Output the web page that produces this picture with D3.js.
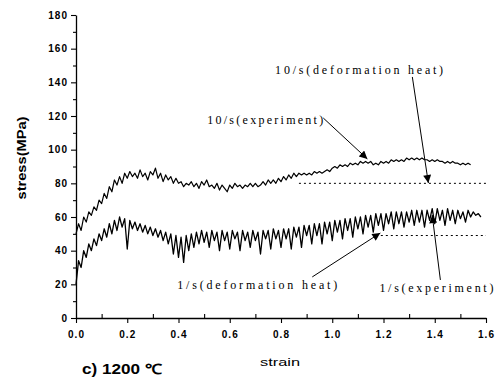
<!DOCTYPE html>
<html>
<head>
<meta charset="utf-8">
<script src="https://cdn.jsdelivr.net/npm/d3@7"></script>
<style>
  html, body { margin: 0; padding: 0; background: #fff; }
  svg { display: block; }
  .tick text { font-family: "Liberation Sans", Arial, sans-serif; font-weight: bold; font-size: 10px; fill: #000; letter-spacing: 1px; }
</style>
</head>
<body>
<svg id="chart" width="497" height="377"></svg>
<script>
// ---------------- data ----------------
const strainStep = 0.01;
// 10/s experiment stress (MPa), strain 0.00 .. 1.54 step 0.01
const stress10 = [
  50,56,52,60,57,63,61,66,64,70, 68,74,71,78,75,82,79,84,80,86,
  83,87,84,86,83,88,84,86,82,87, 85,89,83,86,81,85,82,84,80,83,
  80,81,78,80,79,81,78,80,77,81, 79,82,78,79,77,80,76,79,77,75,
  79,77,80,78,79,77,79,78,80,78, 80,78,79,81,79,82,80,82,80,83,
  81,84,82,85,83,86,84,86,85,86, 85,86,85,87,86,87,86,87,88,87,
  89,90,89,91,90,91,90,92,91,92, 91,93,92,93,92,93,91,92,91,93,
  92,93,92,94,93,94,93,94,93,95, 94,95,94,95,94,95,94,94,93,94,
  93,94,93,93,92,93,92,93,92,92, 91,92,91,92,91
];
// 1/s experiment stress (MPa), strain 0.00 .. 1.58 step 0.01
const stress1 = [
  20,34,30,40,36,44,40,47,43,50, 46,53,48,56,50,58,52,60,54,59,
  41,58,53,57,52,56,51,55,50,54, 49,53,48,52,46,51,44,50,38,49,
  36,48,33,49,40,50,42,51,44,52, 45,51,42,52,46,51,40,52,46,51,
  41,52,47,51,40,52,46,51,42,52, 46,51,38,52,47,52,41,53,47,52,
  42,53,47,53,41,54,48,54,42,55, 49,55,44,56,49,56,44,57,50,57,
  46,58,51,58,47,59,52,59,48,60, 53,60,50,61,54,61,51,62,55,62,
  52,62,56,63,53,63,56,63,54,63, 57,64,55,64,57,64,54,64,58,65,
  56,65,58,64,55,65,58,64,56,64, 59,63,57,64,60,63,61,62,60
];
// deformation-heat predictions (dotted): [strain, stress]
const heat10 = [[0.87, 80], [1.6, 80]];
const heat1  = [[1.17, 49], [1.6, 49]];

const xTicks = [0.0, 0.2, 0.4, 0.6, 0.8, 1.0, 1.2, 1.4, 1.6];
const xMinor = [0.1, 0.3, 0.5, 0.7, 0.9, 1.1, 1.3, 1.5];
const yTicks = [0, 20, 40, 60, 80, 100, 120, 140, 160, 180];
const yMinor = [10, 30, 50, 70, 90, 110, 130, 150, 170];

// annotations: text position [strain, stress], width px
const labels = [
  { text: "10/s(deformation heat)", s: 0.777, v: 145.0, w: 168 },
  { text: "10/s(experiment)",       s: 0.512, v: 115.3, w: 116 },
  { text: "1/s(deformation heat)",  s: 0.395, v: 17.2,  w: 160 },
  { text: "1/s(experiment)",        s: 1.184, v: 15.4,  w: 114 }
];
const arrows = [
  { from: [0.965, 118.8], to: [1.137, 94.5] },
  { from: [1.3125, 143.2], to: [1.375, 80.2] },
  { from: [0.922, 24.4], to: [1.1875, 50.5] },
  { from: [1.422, 22.6], to: [1.39, 61.2] }
];

// ---------------- chart ----------------
const svg = d3.select("#chart");
const x = d3.scaleLinear().domain([0, 1.6]).range([76, 486]);
const y = d3.scaleLinear().domain([0, 180]).range([318, 15]);

// axes
const gx = svg.append("g").attr("transform", `translate(0,${y(0)})`);
gx.call(d3.axisBottom(x).tickValues(xTicks).tickFormat(d3.format(".1f")).tickSize(5).tickPadding(8).tickSizeOuter(0));
svg.append("g").attr("transform", `translate(0,${y(0)})`)
  .call(d3.axisBottom(x).tickValues(xMinor).tickFormat("").tickSize(-4).tickSizeOuter(0))
  .select(".domain").remove();

const gy = svg.append("g").attr("transform", `translate(${x(0)},0)`);
gy.call(d3.axisLeft(y).tickValues(yTicks).tickSize(5).tickPadding(3).tickSizeOuter(0));
svg.append("g").attr("transform", `translate(${x(0)},0)`)
  .call(d3.axisLeft(y).tickValues(yMinor).tickFormat("").tickSize(3).tickSizeOuter(0))
  .select(".domain").remove();

svg.selectAll(".domain").attr("stroke", "#000").attr("stroke-width", 1.3);
svg.selectAll(".tick line").attr("stroke", "#000").attr("stroke-width", 1.1);

// axis titles
svg.append("text")
  .attr("x", 280).attr("y", 366)
  .attr("text-anchor", "middle")
  .attr("font-family", "Liberation Sans, Arial, sans-serif")
  .attr("font-size", 11)
  .attr("textLength", 40).attr("lengthAdjust", "spacingAndGlyphs")
  .text("strain");

svg.append("text")
  .attr("transform", "translate(26,158) rotate(-90)")
  .attr("text-anchor", "middle")
  .attr("font-family", "Liberation Sans, Arial, sans-serif")
  .attr("font-weight", "bold")
  .attr("font-size", 12)
  .attr("textLength", 83).attr("lengthAdjust", "spacingAndGlyphs")
  .text("stress(MPa)");

svg.append("text")
  .attr("x", 82).attr("y", 374)
  .attr("font-family", "Liberation Sans, Arial, sans-serif")
  .attr("font-weight", "bold")
  .attr("font-size", 14)
  .attr("textLength", 80).attr("lengthAdjust", "spacingAndGlyphs")
  .text("c) 1200 ℃");

// curves
const line = d3.line().x((d, i) => x(i * strainStep)).y(d => y(d));
svg.append("path").datum(stress10)
  .attr("d", line).attr("fill", "none").attr("stroke", "#000")
  .attr("stroke-width", 1.2).attr("stroke-linejoin", "round");
svg.append("path").datum(stress1)
  .attr("d", line).attr("fill", "none").attr("stroke", "#000")
  .attr("stroke-width", 1.3).attr("stroke-linejoin", "round");

const hline = d3.line().x(d => x(d[0])).y(d => y(d[1]));
[heat10, heat1].forEach(h => {
  svg.append("path").datum(h).attr("d", hline)
    .attr("fill", "none").attr("stroke", "#000")
    .attr("stroke-width", 1).attr("stroke-dasharray", "2,3");
});

// arrows
svg.append("defs").append("marker")
  .attr("id", "ah").attr("viewBox", "0 0 10 10")
  .attr("refX", 10).attr("refY", 5)
  .attr("markerWidth", 10).attr("markerHeight", 8)
  .attr("markerUnits", "userSpaceOnUse")
  .attr("orient", "auto")
  .append("path").attr("d", "M0,0 L10,5 L0,10 Z").attr("fill", "#000");

arrows.forEach(a => {
  svg.append("line")
    .attr("x1", x(a.from[0])).attr("y1", y(a.from[1]))
    .attr("x2", x(a.to[0])).attr("y2", y(a.to[1]))
    .attr("stroke", "#000").attr("stroke-width", 1)
    .attr("marker-end", "url(#ah)");
});

// annotation text
labels.forEach(l => {
  svg.append("text")
    .attr("x", x(l.s)).attr("y", y(l.v))
    .attr("font-family", "Liberation Serif, DejaVu Serif, serif")
    .attr("font-size", 12)
    .attr("textLength", l.w).attr("lengthAdjust", "spacing")
    .text(l.text);
});
</script>
</body>
</html>
